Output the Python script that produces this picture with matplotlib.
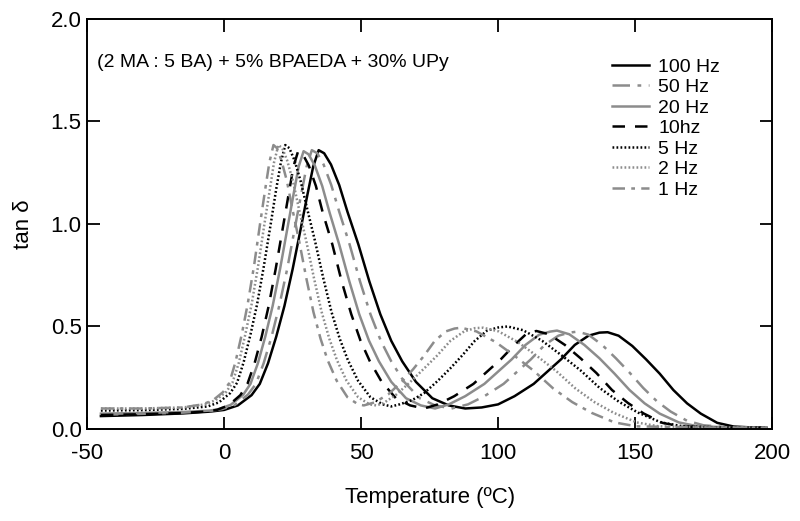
import numpy as np
import matplotlib
matplotlib.use('Agg')
import matplotlib.pyplot as plt

plt.rcParams['font.family'] = ['Liberation Sans', 'DejaVu Sans']
plt.rcParams['axes.unicode_minus'] = False

# tan delta curves, one (T, tan) list per frequency
t_100 = [-45, -30, -15, -5, 0, 5, 10, 13, 16, 19, 22, 25, 28, 30.5, 32.5, 34.5, 36.5, 39, 42, 45,
         49, 53, 57, 61, 65, 70, 76, 82, 88, 94, 100, 106, 113, 118, 123, 128, 133, 137, 140, 144,
         149, 154, 159, 164, 169, 174, 180, 186, 192, 198]
v_100 = [0.063, 0.068, 0.076, 0.085, 0.093, 0.115, 0.165, 0.22, 0.32, 0.45, 0.60, 0.78, 0.98, 1.15, 1.28,
         1.36, 1.345, 1.29, 1.19, 1.06, 0.90, 0.72, 0.56, 0.43, 0.33, 0.23, 0.15, 0.115, 0.10, 0.105,
         0.12, 0.16, 0.22, 0.28, 0.34, 0.41, 0.455, 0.47, 0.472, 0.455, 0.405, 0.34, 0.27, 0.19, 0.125,
         0.075, 0.03, 0.012, 0.008, 0.006]

t_50 = [-45, -30, -15, -5, -0.8, 4, 8.7, 11.6, 14.4, 17.3, 20.1, 23, 25.8, 28.2, 30.1, 32,
        34, 36.3, 39.1, 42, 45.8, 49.6, 53.4, 57.2, 61, 65.7, 71.4, 77, 83,
        89, 95, 102, 107, 112, 117, 122, 126, 129, 133, 138, 143, 148, 153, 158, 163, 169, 175, 185, 198]
v_50 = [0.07, 0.074, 0.08, 0.088, 0.097, 0.118, 0.168, 0.22, 0.32, 0.45, 0.60, 0.78, 0.98, 1.15, 1.28, 1.36,
        1.345, 1.29, 1.19, 1.06, 0.90, 0.72, 0.56, 0.43, 0.33, 0.23, 0.15, 0.115, 0.10,
        0.12, 0.16, 0.22, 0.28, 0.34, 0.41, 0.455, 0.47, 0.475, 0.46, 0.41, 0.345, 0.275, 0.20, 0.135,
        0.085, 0.04, 0.018, 0.008, 0.006]

t_20 = [-45, -30, -15, -5, -2, 2.4, 7, 9.6, 12.3, 15, 17.7, 20.4, 23.1, 25.4, 27.2, 29,
        30.8, 33.1, 35.8, 38.5, 42, 45.7, 49.3, 52.9, 56.5, 61, 66.4, 71.8, 77,
        82, 88, 95, 100, 105, 110, 115, 119, 121.5, 126, 131.5, 137, 142.5, 148, 153.5, 159, 166, 173, 185, 198]
v_20 = [0.075, 0.078, 0.083, 0.09, 0.097, 0.118, 0.168, 0.22, 0.32, 0.45, 0.60, 0.78, 0.98, 1.15, 1.28, 1.355,
        1.34, 1.285, 1.185, 1.055, 0.90, 0.72, 0.56, 0.43, 0.33, 0.23, 0.15, 0.115, 0.10,
        0.12, 0.16, 0.22, 0.28, 0.34, 0.41, 0.46, 0.475, 0.48, 0.462, 0.41, 0.345, 0.27, 0.19, 0.125,
        0.075, 0.032, 0.013, 0.008, 0.006]

t_10 = [-45, -30, -15, -6, -2.7, 1.6, 5.9, 8.5, 11.1, 13.7, 16.25, 18.8, 21.4, 23.6, 25.3, 27,
        28.7, 30.9, 33.5, 36, 39.5, 42.9, 46.4, 49.8, 53.2, 57.5, 62.7, 67.9, 73,
        78, 84, 91, 96, 101, 106, 110, 112, 114, 118.6, 124.4, 130.1, 135.9, 141.6, 147.4, 153.1, 160,
        167, 180, 198]
v_10 = [0.068, 0.072, 0.078, 0.086, 0.093, 0.115, 0.165, 0.22, 0.32, 0.45, 0.60, 0.78, 0.98, 1.15, 1.28, 1.355,
        1.34, 1.285, 1.185, 1.055, 0.90, 0.72, 0.56, 0.43, 0.33, 0.23, 0.15, 0.115, 0.10,
        0.12, 0.16, 0.22, 0.28, 0.34, 0.41, 0.46, 0.472, 0.478, 0.462, 0.41, 0.345, 0.273, 0.19, 0.127,
        0.076, 0.03, 0.012, 0.008, 0.006]

t_5 = [-45, -30, -15, -6, -1.9, 2.2, 4.7, 7.1, 9.6, 12.05, 14.5, 17, 19, 20.7, 22.3,
       23.8, 25.7, 27.9, 30.2, 33.2, 36.2, 39.2, 42.2, 45.2, 48.9, 53.4, 57.9, 61,
       64, 68.5, 73, 78, 82.5, 87, 91.5, 96, 100, 103.5, 109.1, 116.1, 123.1, 130.1, 137.1,
       144.1, 151.1, 159.5, 167.5, 180, 198]
v_5 = [0.09, 0.092, 0.098, 0.11, 0.13, 0.175, 0.225, 0.325, 0.46, 0.61, 0.795, 1.0, 1.17, 1.30, 1.385,
       1.37, 1.31, 1.21, 1.08, 0.915, 0.735, 0.57, 0.44, 0.335, 0.235, 0.155, 0.12, 0.11,
       0.12, 0.14, 0.175, 0.235, 0.295, 0.36, 0.43, 0.48, 0.495, 0.50, 0.482, 0.43, 0.36, 0.286, 0.20,
       0.133, 0.08, 0.032, 0.013, 0.008, 0.006]

t_2 = [-45, -30, -15, -7.1, -3.2, 0.7, 3, 5.4, 7.7, 10.05, 12.4, 14.7, 16.7, 18.2, 19.8,
       21.2, 23.0, 25.1, 27.2, 30.0, 32.8, 35.6, 38.4, 41.2, 44.7, 48.9, 53.1, 55.5,
       58, 62.6, 67.6, 72.6, 77.6, 82.6, 87.6, 91.6, 94.6, 100.2, 107.2, 114.2, 121.2, 128.2, 135.2, 142.2,
       150.6, 158.6, 175, 198]
v_2 = [0.10, 0.10, 0.105, 0.12, 0.14, 0.18, 0.225, 0.325, 0.46, 0.61, 0.795, 1.0, 1.17, 1.30, 1.385,
       1.37, 1.31, 1.21, 1.08, 0.915, 0.735, 0.57, 0.44, 0.335, 0.235, 0.155, 0.12, 0.115,
       0.125, 0.165, 0.225, 0.29, 0.356, 0.43, 0.476, 0.492, 0.494, 0.476, 0.424, 0.356, 0.283, 0.198, 0.131,
       0.079, 0.032, 0.013, 0.008, 0.006]

t_1 = [-45, -30, -15, -7.9, -4.1, -0.4, 1.9, 4.1, 6.4, 8.6, 10.9, 13.1, 15, 16.5, 18,
       19.3, 20.9, 22.9, 24.8, 27.4, 30.0, 32.6, 35.2, 37.8, 41.1, 45.0, 48.9, 51,
       55, 60, 64.9, 68.9, 72.9, 76.9, 80.9, 84.1, 86.5, 92.1, 99.1, 106.1, 113.1, 120.1, 127.1, 134.1,
       142.5, 150.5, 170, 198]
v_1 = [0.10, 0.10, 0.105, 0.12, 0.14, 0.18, 0.225, 0.325, 0.46, 0.61, 0.795, 1.0, 1.17, 1.30, 1.385,
       1.37, 1.31, 1.21, 1.08, 0.915, 0.735, 0.57, 0.44, 0.335, 0.235, 0.155, 0.12, 0.115,
       0.13, 0.17, 0.232, 0.29, 0.356, 0.43, 0.476, 0.49, 0.494, 0.476, 0.424, 0.356, 0.283, 0.198, 0.131,
       0.079, 0.032, 0.013, 0.008, 0.006]

labels = ['100 Hz', '50 Hz', '20 Hz', '10hz', '5 Hz', '2 Hz', '1 Hz']
temps = [t_100, t_50, t_20, t_10, t_5, t_2, t_1]
vals = [v_100, v_50, v_20, v_10, v_5, v_2, v_1]

gray = '#8c8c8c'
styles = [
    dict(color='black', ls='-'),
    dict(color=gray, ls=(0, (7, 3, 1.5, 3))),
    dict(color=gray, ls='-'),
    dict(color='black', ls=(0, (5, 4))),
    dict(color='black', ls=(0, (0.7, 0.9))),
    dict(color=gray, ls=(0, (0.7, 0.9))),
    dict(color=gray, ls=(0, (5, 2.5, 1.5, 2.5))),
]

fig = plt.figure(figsize=(8.0, 5.21), dpi=100)
ax = fig.add_axes([0.109, 0.1766, 0.856, 0.787])

for t, v, lab, st in zip(temps, vals, labels, styles):
    ax.plot(t, v, lw=1.8, label=lab, **st)

ax.set_xlim(-50, 200)
ax.set_ylim(0, 2.0)
ax.set_xticks([-50, 0, 50, 100, 150, 200])
ax.set_yticks([0.0, 0.5, 1.0, 1.5, 2.0])
ax.set_yticklabels(['0.0', '0.5', '1.0', '1.5', '2.0'])
ax.tick_params(direction='in', length=9, width=1.3, top=True, right=True, labelsize=16)
ax.tick_params(axis='x', pad=10)
ax.tick_params(axis='y', pad=4)
for sp in ax.spines.values():
    sp.set_linewidth(1.4)

ax.set_xlabel('Temperature (ºC)', fontsize=16, labelpad=17)
ax.set_ylabel('tan δ', fontsize=16, labelpad=12)

ax.text(-46.5, 1.79, '(2 MA : 5 BA) + 5% BPAEDA + 30% UPy', fontsize=14, va='center')

ax.legend(loc='upper left', bbox_to_anchor=(0.766, 0.905), frameon=False, fontsize=14,
          handlelength=1.9, handletextpad=0.5, labelspacing=0.15, borderpad=0, borderaxespad=0)

fig.savefig('out.png', dpi=100)
